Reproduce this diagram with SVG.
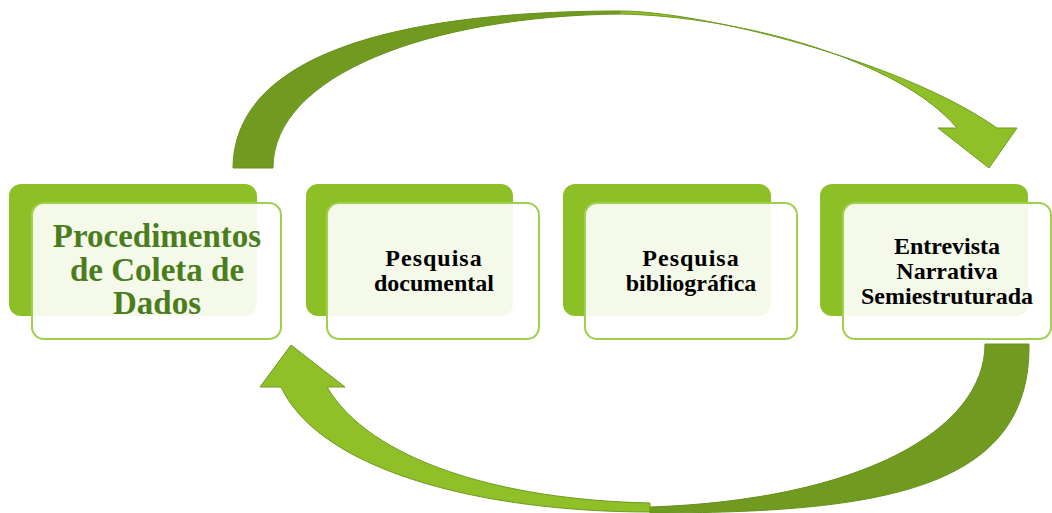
<svg xmlns="http://www.w3.org/2000/svg" width="1052" height="513" viewBox="0 0 1052 513">
<style>
.back{fill:#8dc026;}
.front{fill:#ffffff;fill-opacity:0.9;stroke:#9fd04f;stroke-width:2;}
.t{font-family:"Liberation Serif","Times New Roman",serif;font-weight:bold;text-anchor:middle;}
.tb{font-size:24px;fill:#000;}
.tg{font-size:33px;fill:#4b7d1d;}
.dark{fill:#719b20;stroke:#66901a;stroke-width:1;}
.light{fill:#8fc028;stroke:#6f9a20;stroke-width:1;}
</style>
<rect width="1052" height="513" fill="#fff"/>
<g id="connectors">
<path class="dark" d="M233,168 C234,50 410,11 620,11 L620,14 C430,16 273,75 273,168 Z"/>
<path class="light" d="M620,11 C700,11 900,60 997,128 L1017,128 L989,168 L938,128 L957,128 C900,60 740,16 620,14 Z"/>
<path class="dark" d="M1029,344 C1031,490 880,513 650,513 L650,507 C860,500 985,430 985,344 Z"/>
<path class="light" d="M650,512 C480,512 320,470 281,387 L260,387 L291,345 L345,387 L327,387 C370,460 500,500 650,503 Z"/>
</g>
<g id="node1">
<rect class="back" x="9" y="184" width="248" height="132" rx="12"/>
<rect class="front" x="32" y="203" width="249" height="136" rx="12"/>
<text class="t tg" x="157" y="247">Procedimentos</text>
<text class="t tg" x="157" y="281">de Coleta de</text>
<text class="t tg" x="157" y="314">Dados</text>
</g>
<g id="node2">
<rect class="back" x="306" y="184" width="207" height="132" rx="12"/>
<rect class="front" x="327" y="203" width="212" height="136" rx="12"/>
<text class="t tb" x="434" y="266" letter-spacing="1">Pesquisa</text>
<text class="t tb" x="434" y="291">documental</text>
</g>
<g id="node3">
<rect class="back" x="563" y="184" width="208" height="132" rx="12"/>
<rect class="front" x="585" y="203" width="212" height="136" rx="12"/>
<text class="t tb" x="691" y="266" letter-spacing="1">Pesquisa</text>
<text class="t tb" x="691" y="291">bibliográfica</text>
</g>
<g id="node4">
<rect class="back" x="820" y="184" width="208" height="132" rx="12"/>
<rect class="front" x="843" y="203" width="208" height="136" rx="12"/>
<text class="t tb" x="947" y="254">Entrevista</text>
<text class="t tb" x="947" y="279">Narrativa</text>
<text class="t tb" x="947" y="304">Semiestruturada</text>
</g>
</svg>
